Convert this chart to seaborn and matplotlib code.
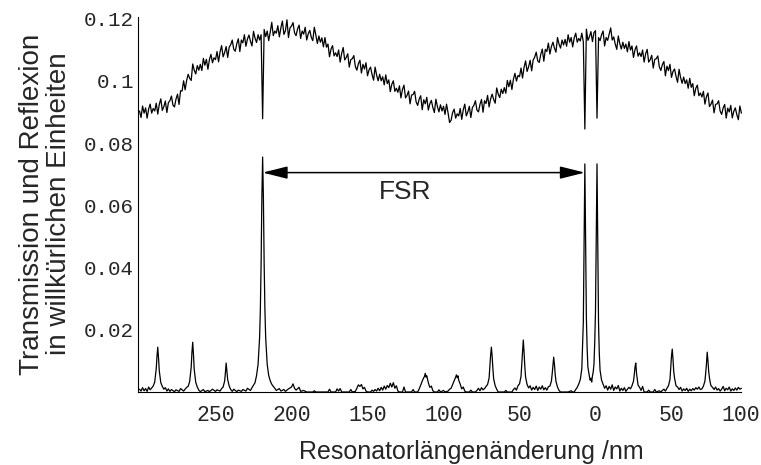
import numpy as np
import pandas as pd
import matplotlib
matplotlib.use("Agg")
import matplotlib.pyplot as plt
import matplotlib.transforms as mtransforms
from matplotlib.ticker import FixedLocator, FixedFormatter, MultipleLocator
import seaborn as sns

# Reflection signal (units of 1e-3), sampled every 1 nm from -300 nm to 96 nm
refl_start_nm = -300
refl_step_nm = 1
refl_milli = [
    90.3, 88.2, 91.9, 89.6, 91.3, 88.0, 90.9, 92.5, 89.6, 91.1,
    90.3, 92.8, 89.3, 92.4, 94.2, 90.5, 91.7, 93.5, 89.8, 93.0,
    93.6, 95.1, 92.2, 91.6, 94.1, 95.7, 92.4, 96.8, 96.7, 100.0,
    97.1, 100.1, 102.1, 100.8, 100.1, 105.4, 103.4, 102.2, 104.9, 103.4,
    105.3, 103.3, 107.2, 105.0, 106.9, 103.7, 106.8, 108.5, 105.8, 107.4,
    106.8, 109.4, 106.1, 109.3, 111.3, 107.7, 109.1, 111.0, 107.5, 110.8,
    111.6, 113.1, 110.1, 109.5, 111.9, 113.5, 109.4, 113.1, 112.2, 114.8,
    111.1, 113.4, 114.7, 112.7, 111.2, 115.9, 113.7, 112.3, 114.8, 113.1,
    114.8, 87.8, 116.5, 114.2, 116.0, 112.9, 115.6, 118.8, 114.5, 116.0,
    115.3, 117.7, 114.1, 117.0, 119.2, 114.9, 116.1, 119.6, 113.9, 117.0,
    117.6, 118.7, 115.4, 114.5, 116.7, 117.9, 113.6, 116.0, 115.0, 117.2,
    113.1, 115.1, 116.2, 114.0, 112.9, 117.2, 114.7, 112.0, 114.4, 112.4,
    113.8, 110.9, 113.9, 110.8, 111.8, 107.7, 110.2, 111.3, 108.0, 109.0,
    107.8, 109.9, 106.0, 108.8, 110.7, 106.7, 107.5, 108.7, 104.4, 106.8,
    107.1, 108.1, 104.6, 103.4, 105.5, 106.6, 102.5, 105.3, 103.8, 105.8,
    101.6, 103.5, 104.4, 102.0, 100.2, 104.4, 101.8, 100.0, 102.1, 100.0,
    101.3, 98.7, 101.9, 99.1, 100.3, 96.5, 98.9, 100.0, 96.6, 97.6,
    96.3, 98.4, 94.5, 97.2, 98.6, 94.5, 95.3, 96.7, 92.6, 95.4,
    95.6, 96.6, 93.2, 92.1, 94.1, 95.2, 90.7, 93.9, 92.6, 94.7,
    90.6, 92.6, 93.7, 91.4, 89.8, 94.1, 91.7, 90.0, 92.3, 90.3,
    91.8, 89.2, 92.5, 89.7, 86.6, 87.3, 89.8, 90.9, 88.0, 89.4,
    88.7, 91.1, 87.6, 90.7, 92.5, 88.7, 90.0, 91.8, 88.2, 91.4,
    92.1, 93.6, 90.6, 90.0, 92.4, 94.0, 89.9, 93.6, 92.7, 95.3,
    91.6, 94.2, 95.7, 94.0, 92.8, 97.7, 95.7, 94.6, 97.3, 95.9,
    97.8, 96.0, 100.1, 98.1, 100.2, 97.2, 100.5, 102.4, 99.9, 101.7,
    101.3, 104.1, 100.9, 104.3, 106.4, 103.0, 104.5, 106.6, 103.2, 106.7,
    107.6, 109.2, 106.4, 105.9, 108.5, 110.2, 106.3, 110.1, 109.4, 112.1,
    108.6, 111.0, 112.4, 110.5, 109.2, 113.9, 111.8, 110.5, 113.1, 111.5,
    113.3, 111.1, 114.8, 112.4, 113.9, 110.9, 113.8, 115.3, 112.4, 113.6,
    112.8, 115.3, 112.5, 84.5, 116.6, 113.0, 114.1, 115.8, 112.6, 115.5,
    116.1, 88.0, 113.9, 112.9, 114.8, 116.0, 111.2, 113.9, 113.0, 115.0,
    117.0, 113.1, 114.1, 111.8, 110.1, 114.4, 111.9, 110.2, 112.4, 110.4,
    111.8, 109.3, 112.6, 109.9, 111.2, 107.5, 110.0, 111.2, 107.9, 109.0,
    107.8, 109.9, 106.0, 108.7, 110.1, 106.0, 106.8, 108.2, 104.1, 106.9,
    107.1, 108.0, 104.5, 103.3, 105.2, 106.2, 101.6, 104.7, 103.3, 105.3,
    101.1, 103.0, 103.8, 101.4, 99.5, 103.7, 101.0, 99.2, 101.2, 99.1,
    100.3, 97.6, 100.8, 97.9, 99.1, 95.2, 97.6, 98.6, 95.2, 96.1,
    94.8, 96.6, 92.5, 94.9, 96.1, 91.7, 92.5, 93.8, 89.7, 92.4,
    92.6, 93.6, 90.3, 89.2, 91.3, 92.4, 88.0, 91.2, 90.0, 92.1,
    88.1, 90.2, 91.3, 89.1, 87.5, 91.9, 89.6,
]

# Transmission signal: position (nm) and value (units of 1e-3)
trans_nm = [
    -300, -299, -298, -297, -296, -295, -294, -293, -292,
    -291, -290, -289, -288.5, -288, -287.5, -287, -286, -285, -284,
    -283, -282, -281, -280, -279, -277, -276, -274, -273, -271, -270, -269,
    -268, -267, -266, -265.5, -265, -264.5, -264, -263, -262, -261,
    -260, -258, -257, -255, -254, -252, -250, -249, -247, -246,
    -245, -244, -243.5, -243, -242.5, -242, -241, -240,
    -239, -238, -236, -235, -233, -232, -230, -229, -227, -226,
    -225, -224, -223, -222, -221, -220.5, -220, -219.5, -219, -218.5,
    -218, -217.5, -217, -216, -215, -214, -213, -212, -211,
    -210, -208, -207, -205, -204, -202, -200, -199, -198, -197, -195, -194,
    -192, -190, -186, -185, -184,
    -183, -176, -175, -174, -171, -170, -169, -168, -167, -162, -161, -160,
    -158, -157, -156, -155, -154, -153, -152, -151, -150, -148, -147, -146,
    -145, -144, -143, -142, -141, -140, -139, -138, -137, -136, -135, -134,
    -133, -132, -131, -130, -129, -127, -126, -125, -121, -120, -119, -117,
    -116, -115, -114, -113, -112.5, -112, -111.5, -111, -110, -109, -108,
    -107, -106, -104, -103, -102, -100, -99, -97, -96, -95, -94, -93, -92,
    -91.5, -91, -90.5, -90, -89, -88, -87, -86, -85, -83, -82, -81, -79,
    -78, -77, -76, -75, -74, -73, -72,
    -71, -70, -69.5, -69, -68.5, -68, -67.5, -67, -66, -65,
    -64, -60, -59, -58, -55, -54, -53, -52, -51,
    -50, -49, -48.5, -48, -47.5, -47, -46.5, -46, -45, -44,
    -43, -42, -41, -40, -39, -38, -37, -36, -35, -34, -33, -32, -31,
    -30, -29, -28.5, -28, -27.5, -27, -26.5, -26, -25, -24, -23,
    -18, -16, -15, -14, -13, -12, -11, -10, -9, -8.5, -8, -7.5, -7,
    -6.5, -6, -5.5, -5, -4, -3.5, -3, -2.5, -2, -1.5, -1, -0.5, 0,
    0.5, 1, 1.5, 2, 2.5, 3, 4, 5, 6,
    7, 8, 9, 10, 11, 12, 13, 14, 15, 16, 17, 18, 19, 20, 21, 22,
    23, 24, 25, 25.5, 26, 26.5, 27, 27.5, 28, 29, 30, 31, 32,
    34, 35, 36, 38, 39, 40, 42, 43, 44, 45, 46, 47, 48,
    49, 49.5, 50, 50.5, 51, 51.5, 52, 52.5, 53, 54, 55, 56, 57, 58, 59,
    60, 61, 62, 63, 64, 65, 66, 67, 68, 69, 70,
    71, 72, 72.5, 73, 73.5, 74, 74.5, 75, 75.5, 76, 77, 78, 79, 80, 81,
    82, 83, 84, 85, 86, 87, 88, 89, 90, 91, 92, 93, 94, 95, 96,
]
trans_milli = [
    0.9, 0.3, 1.4, 0.4, 1.1, 0.2, 1.6, 0.7, 1.3,
    1.9, 3.2, 7.5, 11.5, 14.4, 11.0, 6.8, 3.0, 1.8, 0.9,
    1.4, 0.3, 1.0, 0.2, 0.8, 0.1, 0.7, 0.2, 1.1, 0.3, 0.9, 1.5,
    1.8, 3.4, 8.0, 12.8, 16.0, 12.0, 7.2, 3.1, 1.6, 0.6,
    0.1, 0.8, 0.1, 0.5, 0.1, 0.9, 0.2, 0.7, 0.3, 1.1,
    1.6, 3.5, 6.2, 9.3, 6.8, 4.0, 1.9, 0.8,
    0.2, 0.9, 0.1, 0.6, 0.2, 0.8, 0.3, 1.2, 0.5, 1.4,
    2.2, 3.0, 5.3, 8.9, 17.5, 26.4, 41.3, 62.6, 75.5, 62.6,
    41.3, 26.4, 17.5, 8.9, 5.3, 3.6, 2.5, 1.8, 1.2,
    0.5, 1.1, 0.3, 0.8, 0.2, 1.0, 1.6, 2.6, 1.2, 0.6, 1.5, 0.2,
    0.5, 0.0, 0.0, 0.4, 0.0,
    0.0, 0.0, 0.9, 0.0, 0.0, 1.0, 0.3, 1.1, 0.0, 0.0, 0.8, 0.0,
    0.2, 1.2, 2.3, 1.8, 2.4, 1.0, 1.5, 0.3, 0.0, 0.0, 0.6, 0.2,
    0.8, 0.3, 1.2, 0.4, 1.5, 0.6, 1.9, 0.9, 2.1, 1.4, 2.8, 1.6,
    3.0, 1.2, 2.0, 0.3, 0.0, 0.0, 1.6, 0.0, 0.0, 0.8, 0.0, 0.0,
    1.0, 2.2, 3.5, 4.6, 5.0, 6.0, 4.8, 5.2, 3.0, 1.5, 1.9,
    0.4, 0.0, 0.0, 0.7, 0.0, 0.5, 0.0, 0.3, 0.9, 1.2, 2.4, 3.6, 4.8,
    5.5, 4.6, 5.2, 3.8, 2.5, 1.0, 1.6, 0.3, 0.0, 0.0, 0.6, 0.0, 0.0,
    0.5, 1.2, 0.4, 1.4, 0.7, 1.1, 1.8,
    2.4, 4.5, 8.0, 11.8, 14.4, 11.5, 7.5, 4.2, 2.0, 0.9,
    0.0, 0.0, 0.5, 0.0, 0.0, 0.8, 1.3, 0.6, 2.0,
    2.6, 5.0, 9.0, 13.5, 16.7, 12.8, 8.2, 4.8, 2.4, 1.3,
    2.0, 0.6, 1.5, 0.8, 1.9, 0.5, 1.6, 0.9, 2.0, 0.7, 1.4, 0.6, 1.7,
    1.9, 3.5, 5.8, 8.6, 11.2, 8.8, 5.6, 3.4, 1.6, 0.5, 0.0,
    0.0, 0.4, 0.0, 0.0, 0.8, 1.5, 2.6, 4.0, 7.5, 14.7, 22.6, 48.0, 73.3,
    50.0, 24.0, 14.0, 8.0, 5.0, 3.8, 4.4, 3.2, 5.2, 6.4, 9.0, 16.0, 26.0,
    50.0, 73.3, 48.0, 22.0, 12.5, 7.0, 3.8, 2.5, 1.2,
    2.0, 0.6, 1.8, 0.9, 2.3, 0.5, 1.6, 1.0, 2.1, 0.3, 1.2, 0.5, 1.4, 0.2, 0.9, 1.5,
    1.0, 2.0, 3.5, 5.5, 8.0, 9.3, 6.0, 4.2, 2.2, 1.5, 0.5, 1.8, 0.0,
    0.0, 0.6, 0.0, 0.0, 0.8, 0.0, 0.4, 0.0, 0.5, 0.9, 0.3, 1.2, 2.0,
    4.0, 7.5, 11.5, 13.8, 10.5, 6.5, 4.5, 3.2, 2.0, 1.6, 0.8, 1.5, 0.3, 1.0, 0.5,
    1.2, 0.2, 0.9, 0.4, 1.1, 0.6, 1.4, 0.9, 1.6, 0.8, 1.0,
    1.9, 3.5, 6.0, 9.0, 12.8, 10.0, 6.5, 4.5, 3.0, 2.0, 1.5, 0.8, 1.6, 0.6, 1.1,
    0.3, 0.9, 1.8, 0.4, 1.2, 0.7, 1.6, 0.3, 1.0, 0.5, 1.3, 0.6, 1.5, 0.9, 1.2,
]

# Axis annotation data
y_ticks = [0.02, 0.04, 0.06, 0.08, 0.10, 0.12]
y_tick_labels = ["0.02", "0.04", "0.06", "0.08", "0.1", "0.12"]
x_ticks = [-250, -200, -150, -100, -50, 0, 50, 100]
x_tick_labels = ["250", "200", "150", "100", "50", "0", "50", "100"]
fsr_left_nm, fsr_right_nm, fsr_level = -219, -7, 0.0705
fsr_text = "FSR"
fsr_text_pos = (-125, 0.0643)

refl_nm = refl_start_nm + refl_step_nm * np.arange(len(refl_milli))
refl_df = pd.DataFrame({"nm": refl_nm, "signal": np.array(refl_milli) / 1000})
trans_df = pd.DataFrame({"nm": trans_nm, "signal": np.array(trans_milli) / 1000})

sns.set_theme(style="white")
plt.rcParams["font.family"] = ["Liberation Sans", "DejaVu Sans"]

fig = plt.figure(figsize=(7.61, 4.65), dpi=100)
ax = fig.add_axes([138 / 761, 73 / 465, 611 / 761, 375 / 465])

sns.lineplot(data=refl_df, x="nm", y="signal", ax=ax, color="black",
             lw=0.9, estimator=None, sort=False)
sns.lineplot(data=trans_df, x="nm", y="signal", ax=ax, color="black",
             lw=0.9, estimator=None, sort=False)

ax.set_xlim(-301, 101)
ax.set_ylim(0, 0.1205)

# Free spectral range marker
ax.annotate("", xy=(fsr_right_nm, fsr_level), xytext=(fsr_left_nm, fsr_level),
            arrowprops=dict(arrowstyle="<|-|>,head_length=0.8,head_width=0.2",
                            mutation_scale=19, color="black", lw=1.1,
                            shrinkA=0, shrinkB=0))
ax.text(*fsr_text_pos, fsr_text, ha="center", va="center", fontsize=19)

# Axes styling: only left and bottom axis lines
for side in ("top", "right"):
    ax.spines[side].set_visible(False)
for side in ("left", "bottom"):
    ax.spines[side].set_linewidth(0.8)
    ax.spines[side].set_color("black")
ax.spines["bottom"].set_bounds(-301, 96)

ax.yaxis.set_major_locator(FixedLocator(y_ticks))
ax.yaxis.set_major_formatter(FixedFormatter(y_tick_labels))
ax.yaxis.set_minor_locator(MultipleLocator(0.005))
ax.tick_params(axis="y", which="major", direction="in", length=4, width=0.8,
               pad=3, labelsize=15)
ax.tick_params(axis="y", which="minor", direction="in", length=2.3, width=0.7)
ax.xaxis.set_major_locator(FixedLocator(x_ticks))
ax.xaxis.set_major_formatter(FixedFormatter(x_tick_labels))
ax.tick_params(axis="x", which="both", length=0, pad=9, labelsize=15.5)
for lab in ax.get_xticklabels() + ax.get_yticklabels():
    lab.set_family(["Liberation Mono", "DejaVu Sans Mono"])

# keep the last x label inside the figure edge
last_lab = ax.get_xticklabels()[-1]
last_lab.set_transform(last_lab.get_transform() +
                       mtransforms.ScaledTranslation(-7 / 100, 0, fig.dpi_scale_trans))

ax.set_xlabel("Resonatorlängenänderung /nm", fontsize=18)
ax.xaxis.set_label_coords(0.546, -0.128)
ax.set_ylabel("Transmission und Reflexion\nin willkürlichen Einheiten",
              fontsize=20, linespacing=1.05)
ax.yaxis.set_label_coords(-0.108, 0.501)

fig.savefig("out.png", dpi=100)
